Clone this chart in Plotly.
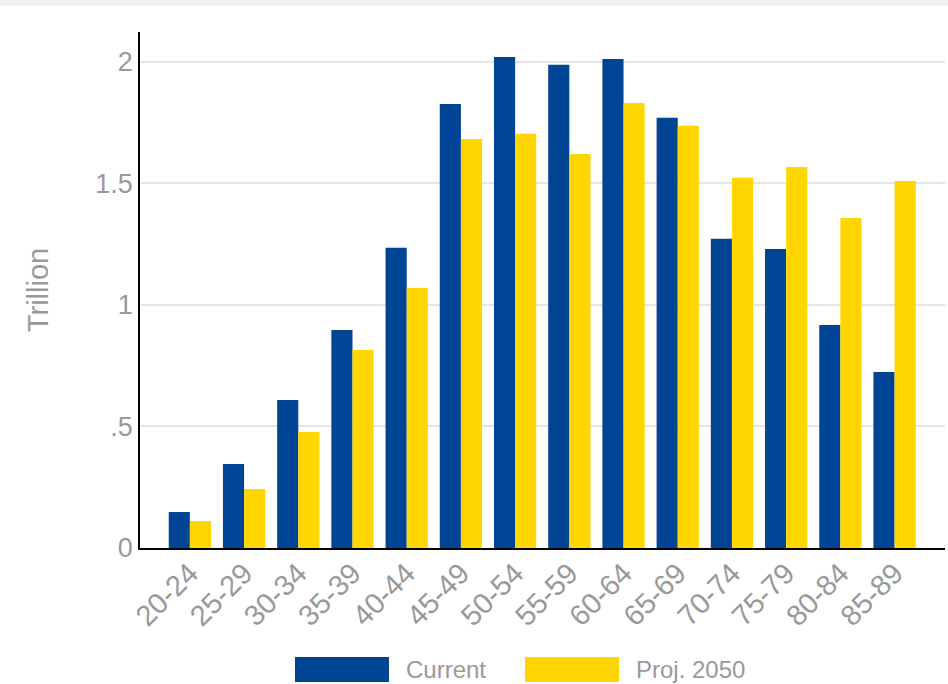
import plotly.graph_objects as go

categories = ["20-24", "25-29", "30-34", "35-39", "40-44", "45-49", "50-54",
              "55-59", "60-64", "65-69", "70-74", "75-79", "80-84", "85-89"]
current = [0.148, 0.346, 0.609, 0.897, 1.235, 1.827, 2.020,
           1.988, 2.012, 1.770, 1.272, 1.230, 0.918, 0.724]
proj_2050 = [0.111, 0.243, 0.477, 0.815, 1.070, 1.683, 1.704,
             1.621, 1.831, 1.737, 1.523, 1.568, 1.358, 1.510]
series_names = ["Current", "Proj. 2050"]
ytick_vals = [0, 0.5, 1, 1.5, 2]
ytick_text = ["0", ".5", "1", "1.5", "2"]

BLUE = "#004595"
YELLOW = "#FFD600"
GRAY = "#999999"
FONT = "Liberation Sans, Arial, sans-serif"

fig = go.Figure()
fig.add_bar(x=categories, y=current, name=series_names[0], marker_color=BLUE,
            marker_line_width=0, showlegend=False)
fig.add_bar(x=categories, y=proj_2050, name=series_names[1], marker_color=YELLOW,
            marker_line_width=0, showlegend=False)

fig.update_layout(
    width=948, height=684,
    margin=dict(l=140, r=3, t=32, b=136, pad=0),
    paper_bgcolor="white", plot_bgcolor="white",
    barmode="group", bargap=0.22, bargroupgap=0,
    font=dict(family=FONT, color=GRAY, size=24),
    showlegend=False,
)
fig.update_xaxes(
    type="category", range=[-0.92, 13.93],
    showline=True, linecolor="black", linewidth=1.5,
    showgrid=False, tickangle=-45, ticks="",
    tickfont=dict(size=29, color=GRAY),
    ticklabelstandoff=-5,
)
fig.update_yaxes(
    range=[0, 2.123], tickvals=ytick_vals, ticktext=ytick_text,
    showline=True, linecolor="black", linewidth=1.5,
    showgrid=True, gridcolor="#e5e5e5", gridwidth=1.5,
    zeroline=False, ticks="",
    tickfont=dict(size=27, color=GRAY),
    title=dict(text="Trillion", font=dict(size=29, color=GRAY), standoff=38),
)

# top gray band
fig.add_shape(type="rect", xref="paper", yref="paper", x0=-0.2, x1=1.01,
              y0=1.0504, y1=1.07, fillcolor="#efefef", line_width=0, layer="below")

# custom legend
legend_items = [(series_names[0], BLUE, 0.1925, 0.3093, 0.328),
                (series_names[1], YELLOW, 0.4783, 0.5950, 0.6137)]
for name, col, x0, x1, xt in legend_items:
    fig.add_shape(type="rect", xref="paper", yref="paper", x0=x0, x1=x1,
                  y0=-0.2597, y1=-0.2112, fillcolor=col, line_width=0)
    fig.add_annotation(xref="paper", yref="paper", x=xt, y=-0.2355, text=name,
                       showarrow=False, xanchor="left", yanchor="middle",
                       font=dict(size=24, color=GRAY))

fig.write_html("out.html")
